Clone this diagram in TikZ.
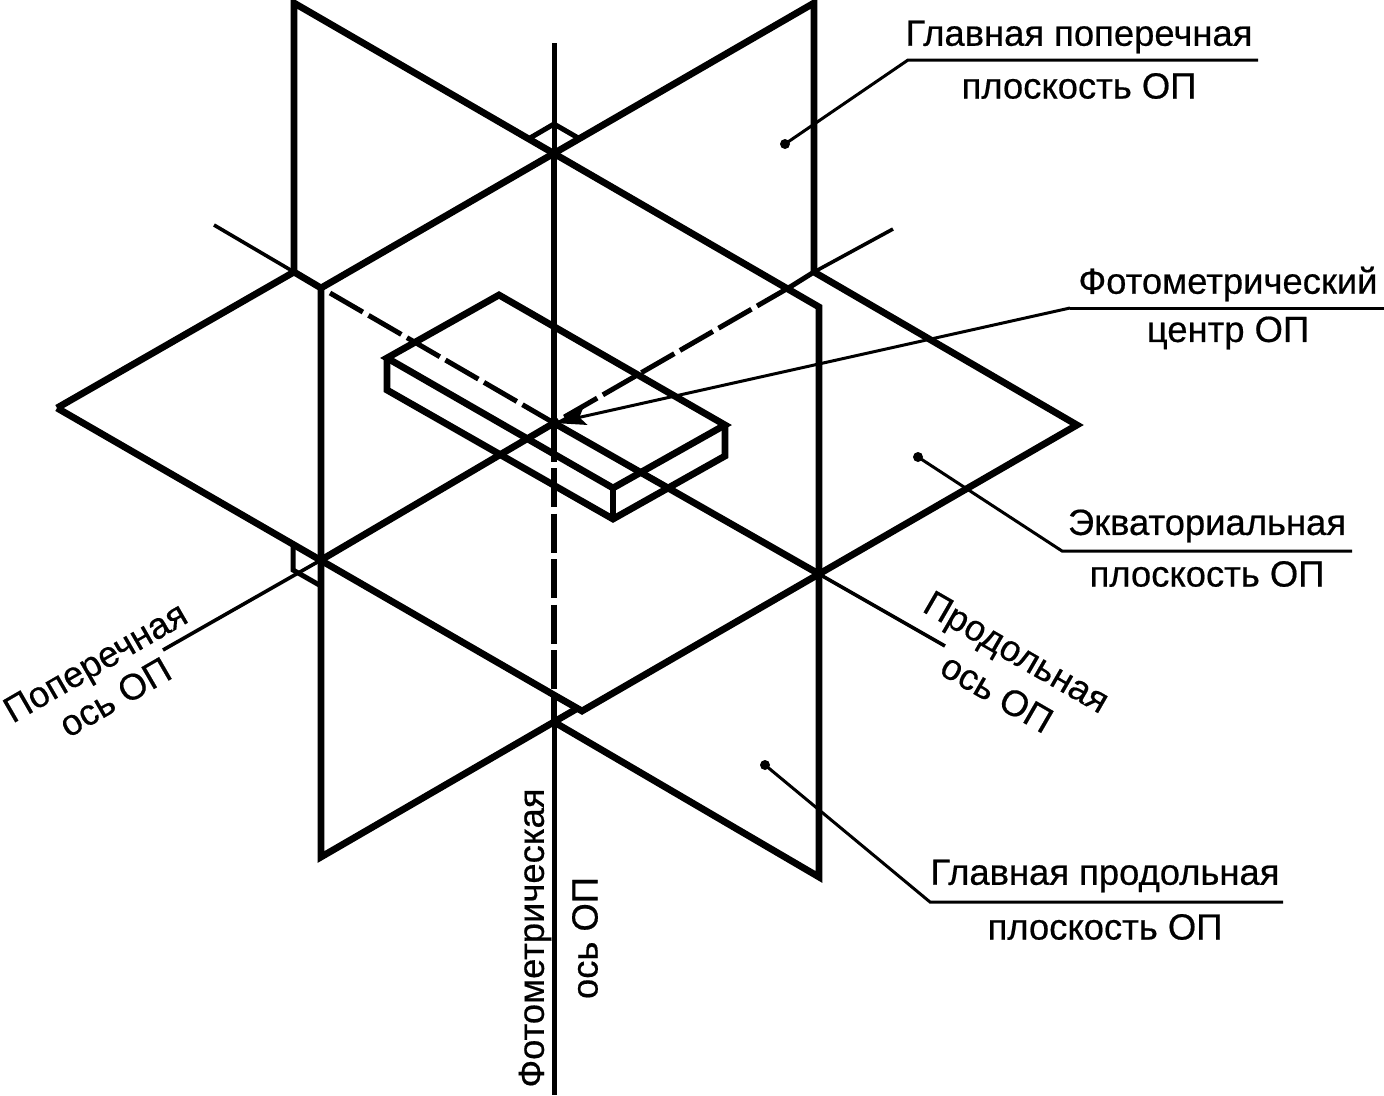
\documentclass[tikz,border=0pt]{standalone}
\usepackage{fontspec}
\setmainfont[FakeBold=0.5]{Liberation Sans}
\usetikzlibrary{arrows.meta}
\tikzset{
  heavy/.style={line width=6.8pt,line join=miter,line cap=butt},
  medium/.style={line width=5pt,line join=miter},
  thin line/.style={line width=3.6pt},
  leader/.style={line width=3pt},
  dashaxis/.style={line width=5pt,dash pattern=on 38pt off 6.5pt},
  lbl/.style={font=\fontsize{36.4}{36.4}\selectfont,inner sep=0pt,anchor=center},
  dotmark/.style={circle,fill=black,inner sep=0pt,minimum size=10pt}
}
\begin{document}
\begin{tikzpicture}[x=1pt,y=-1pt]
\useasboundingbox (0,0) rectangle (1384,1095);
% key points
\coordinate (tl) at (294,3);
\coordinate (tr) at (814,3);
\coordinate (ml) at (294,272);
\coordinate (mr) at (814,272);
\coordinate (bl) at (321,288);
\coordinate (br) at (819,307);
\coordinate (bbl) at (321,857);
\coordinate (bbr) at (819,877);
\coordinate (low) at (554,722);
\coordinate (lowtip) at (578,708);
\coordinate (eqL) at (57,408);
\coordinate (eqR) at (1077,425);
\coordinate (eqB) at (819,574);
\coordinate (eqBB) at (582,711);
\coordinate (eqM) at (554,695);
\coordinate (eqLL) at (321,560);
\coordinate (ctr) at (554,423);
\coordinate (top) at (554,153);
% planes
\draw[heavy] (ml) -- (tl) -- (br) -- (bbr) -- (low);
\draw[heavy] (mr) -- (tr) -- (bl) -- (bbl) -- (lowtip);
\draw[heavy] (eqL) -- (ml) -- (bl);
\draw[heavy] (mr) -- (eqR) -- (eqB) -- (eqBB) -- (eqM) -- (eqL);
\draw[heavy] (eqLL) -- (ctr) -- (eqB);
% small corners
\coordinate (ca) at (530,138);
\coordinate (cb) at (554,124);
\coordinate (cc) at (580,139);
\draw[medium] (ca) -- (cb) -- (cc);
\coordinate (da) at (293,547);
\coordinate (db) at (293,570);
\coordinate (dc) at (321,586);
\draw[medium] (da) -- (db) -- (dc);
% box
\coordinate (b1) at (387,358);
\coordinate (b2) at (499,295);
\coordinate (b3) at (725,425);
\coordinate (b4) at (613,488);
\coordinate (b5) at (387,390);
\coordinate (b6) at (613,519);
\coordinate (b7) at (725,456);
\draw[heavy] (b1) -- (b2) -- (b3) -- (b4) -- cycle;
\draw[heavy] (b1) -- (b5) -- (b6) -- (b7) -- (b3);
\draw[heavy] (b4) -- (b6);
% vertical axis
\coordinate (vt) at (554,43);
\coordinate (vd) at (554,462);
\coordinate (vs) at (554,468);
\coordinate (vb) at (554,1095);
\draw[medium] (vt) -- (top);
\draw[heavy] (top) -- (vd);
\draw[line width=5.5pt,dash pattern=on 39pt off 6.5pt] (vs) -- (low);
\draw[medium] (low) -- (vb);
% transverse axis
\coordinate (ta) at (214,225);
\coordinate (tb) at (330,293);
\draw[thin line] (ta) -- (ml);
\draw[dashaxis] (tb) -- (ctr);
\coordinate (tc) at (163,650);
\draw[thin line] (eqLL) -- (tc);
\coordinate (pa) at (893,229);
\coordinate (pb) at (790,287);
\draw[thin line] (pa) -- (mr);
\draw[medium] (mr) -- (pb);
\draw[dashaxis] (pb) -- (ctr);
\coordinate (pc) at (945,646);
\draw[thin line] (eqB) -- (pc);
% labels
\node[lbl] (l1a) at (1079,37) {Главная поперечная};
\node[lbl] (l1b) at (1079,86) {плоскость ОП};
\node[lbl] (l2a) at (1228,284) {Фотометрический};
\node[lbl] (l2b) at (1228,333) {центр ОП};
\node[lbl] (l3a) at (1207,526) {Экваториальная};
\node[lbl] (l3b) at (1207,574) {плоскость ОП};
\node[lbl] (l4a) at (1105,876) {Главная продольная};
\node[lbl] (l4b) at (1105,927) {плоскость ОП};
\node[lbl,rotate=30] (l5a) at (97,665) {Поперечная};
\node[lbl,rotate=30] (l5b) at (115,697) {ось ОП};
\node[lbl,rotate=-30] (l6a) at (1015,655) {Продольная};
\node[lbl,rotate=-30] (l6b) at (997,693) {ось ОП};
\node[lbl,rotate=90] (l7a) at (535,938) {Фотометрическая};
\node[lbl,rotate=90] (l7b) at (585,938) {ось ОП};
% leaders
\node[dotmark] (d1) at (785,144) {};
\coordinate (e1) at (908,60);
\coordinate (f1) at (1258,60);
\draw[leader] (d1.center) -- (e1) -- (f1);
\node[dotmark] (d3) at (918,457) {};
\coordinate (e3) at (1062,551);
\coordinate (f3) at (1352,551);
\draw[leader] (d3.center) -- (e3) -- (f3);
\node[dotmark] (d4) at (765,765) {};
\coordinate (e4) at (930,902);
\coordinate (f4) at (1283,902);
\draw[leader] (d4.center) -- (e4) -- (f4);
\coordinate (e2) at (1070,308);
\coordinate (f2) at (1384,308);
\draw[leader] (f2) -- (e2);
\draw[leader,-{Stealth[length=32pt,width=18pt,inset=6pt]}] (e2) -- (ctr);
\end{tikzpicture}
\end{document}
